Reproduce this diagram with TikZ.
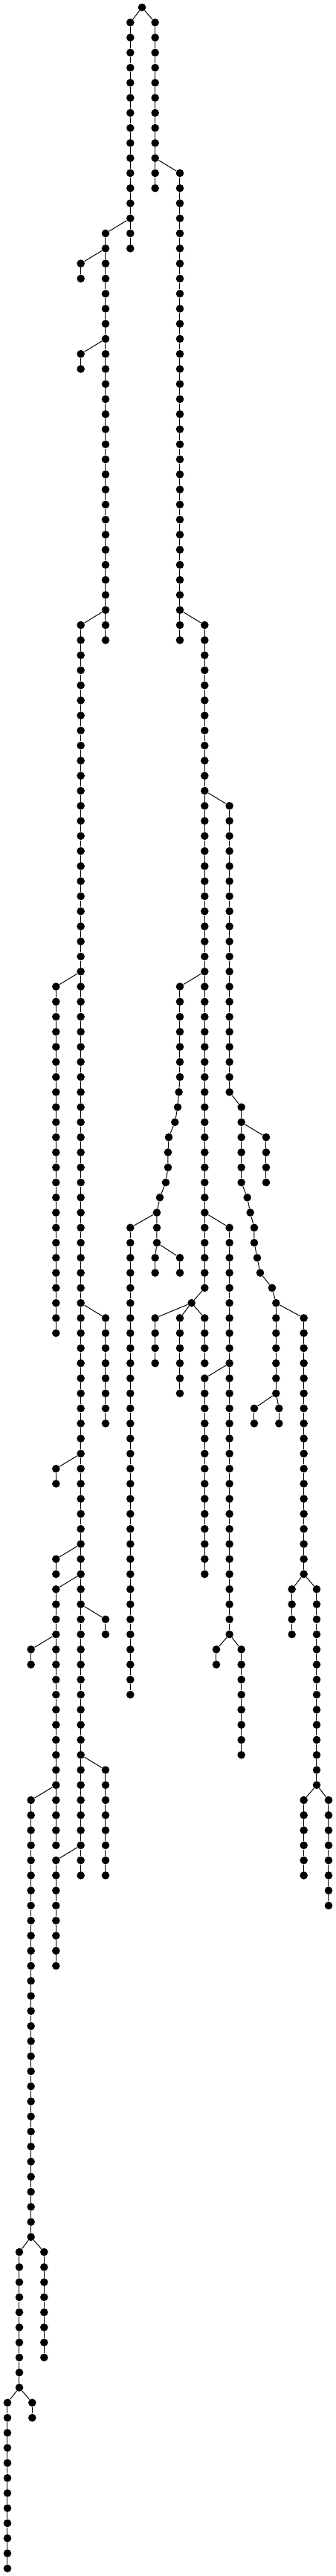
\documentclass[tikz,border=0pt]{standalone}
\tikzset{
  tdot/.style={circle, fill=black, inner sep=0pt, minimum size=5.3pt},
  link/.style={line width=0.5pt, black}
}
\newcommand\mychain[4]{%
  \foreach \k in {#3,...,#4} {\node[tdot] (#1-\k) at (#2,\k) {};}%
  \foreach \k [remember=\k as \p (initially #3)] in {#3,...,#4} {\ifnum\k>#3 \draw[link] (#1-\p) -- (#1-\k);\fi}%
}
\begin{document}
\begin{tikzpicture}[x=0.166667pt, y=-10.135pt]
\useasboundingbox (0,-0.4934) rectangle (1356,170.5066);
\node[tdot] (root) at (573,0) {};
\mychain{a}{526}{1}{16} \draw[link] (root)--(a-1);
\mychain{b}{626}{1}{12} \draw[link] (root)--(b-1);
\mychain{c}{726}{11}{42} \draw[link] (b-10)--(c-11);
\mychain{e}{426}{15}{42} \draw[link] (a-14)--(e-15);
\mychain{ea}{326}{17}{18} \draw[link] (e-16)--(ea-17);
\mychain{eb}{326}{23}{24} \draw[link] (e-22)--(eb-23);
\mychain{f}{326}{41}{124} \draw[link] (e-40)--(f-41);
\mychain{g}{226}{65}{88} \draw[link] (f-64)--(g-65);
\mychain{h}{426}{87}{94} \draw[link] (f-86)--(h-87);
\mychain{i}{226}{97}{98} \draw[link] (f-96)--(i-97);
\mychain{j}{226}{103}{104} \draw[link] (f-102)--(j-103);
\mychain{l}{226}{105}{122} \draw[link] (f-104)--(l-105);
\mychain{m}{426}{107}{108} \draw[link] (f-106)--(m-107);
\mychain{n}{426}{117}{124} \draw[link] (f-116)--(n-117);
\mychain{o}{226}{123}{130} \draw[link] (f-122)--(o-123);
\mychain{p}{125}{109}{110} \draw[link] (l-108)--(p-109);
\mychain{q}{125}{119}{148} \draw[link] (l-118)--(q-119);
\mychain{r}{78}{149}{158} \draw[link] (q-148)--(r-149);
\mychain{rr}{178}{149}{156} \draw[link] (q-148)--(rr-149);
\mychain{s}{30}{159}{170} \draw[link] (r-158)--(s-159);
\mychain{ss}{130}{159}{160} \draw[link] (r-158)--(ss-159);
% right part
\mychain{d}{826}{41}{85} \draw[link] (c-40)--(d-41);
\mychain{t}{926}{53}{72} \draw[link] (d-52)--(t-53);
\mychain{tb}{974}{73}{78} \draw[link] (t-72)--(tb-73);
\mychain{tc}{1074}{75}{78} \draw[link] (tb-74)--(tc-75);
\node[tdot] (tw79) at (998,79) {};
\node[tdot] (tw80) at (1010,80) {};
\node[tdot] (tw81) at (1026,81) {};
\node[tdot] (tw82) at (1026,82) {};
\node[tdot] (tw83) at (1038,83) {};
\node[tdot] (tw84) at (1050,84) {};
\node[tdot] (tw85) at (1098,85) {};
\mychain{td}{1114}{86}{92}
\draw[link] (tb-78)--(tw79)--(tw80)--(tw81)--(tw82)--(tw83)--(tw84)--(tw85)--(td-86);
\mychain{te}{1226}{87}{104} \draw[link] (td-86)--(te-87);
\mychain{tf}{1026}{93}{94} \draw[link] (td-92)--(tf-93);
\mychain{tg}{1126}{93}{94} \draw[link] (td-92)--(tg-93);
\mychain{th}{1178}{105}{108} \draw[link] (te-104)--(th-105);
\mychain{ti}{1278}{105}{118} \draw[link] (te-104)--(ti-105);
\mychain{tj}{1226}{119}{124} \draw[link] (ti-118)--(tj-119);
\mychain{tk}{1326}{119}{126} \draw[link] (ti-118)--(tk-119);
\mychain{u}{726}{65}{71} \draw[link] (d-64)--(u-65);
\node[tdot] (uw72) at (722,72) {};
\node[tdot] (uw73) at (717,73) {};
\node[tdot] (uw74) at (706,74) {};
\node[tdot] (uw75) at (681,75) {};
\node[tdot] (uw76) at (678,76) {};
\node[tdot] (uw77) at (678,77) {};
\node[tdot] (uw78) at (669,78) {};
\node[tdot] (uw79) at (645,79) {};
\node[tdot] (uw80) at (633,80) {};
\node[tdot] (uw81) at (633,81) {};
\node[tdot] (uw82) at (633,82) {};
\draw[link] (u-71)--(uw72)--(uw73)--(uw74)--(uw75)--(uw76)--(uw77)--(uw78)--(uw79)--(uw80)--(uw81)--(uw82);
\mychain{ua}{526}{81}{112} \draw[link] (uw80)--(ua-81);
\mychain{ub}{626}{83}{84} \draw[link] (uw82)--(ub-83);
\mychain{uc}{726}{83}{84} \draw[link] (uw82)--(uc-83);
\mychain{v}{926}{81}{108} \draw[link] (d-80)--(v-81);
\mychain{va}{826}{91}{104} \draw[link] (v-90)--(va-91);
\mychain{vb}{873}{109}{110} \draw[link] (v-108)--(vb-109);
\mychain{vc}{974}{109}{116} \draw[link] (v-108)--(vc-109);
\node[tdot] (w) at (773,86) {};
\draw[link] (d-85)--(w);
\mychain{wa}{626}{87}{90} \draw[link] (w)--(wa-87);
\mychain{wb}{726}{87}{92} \draw[link] (w)--(wb-87);
\mychain{wc}{826}{87}{90} \draw[link] (w)--(wc-87);
\end{tikzpicture}
\end{document}
